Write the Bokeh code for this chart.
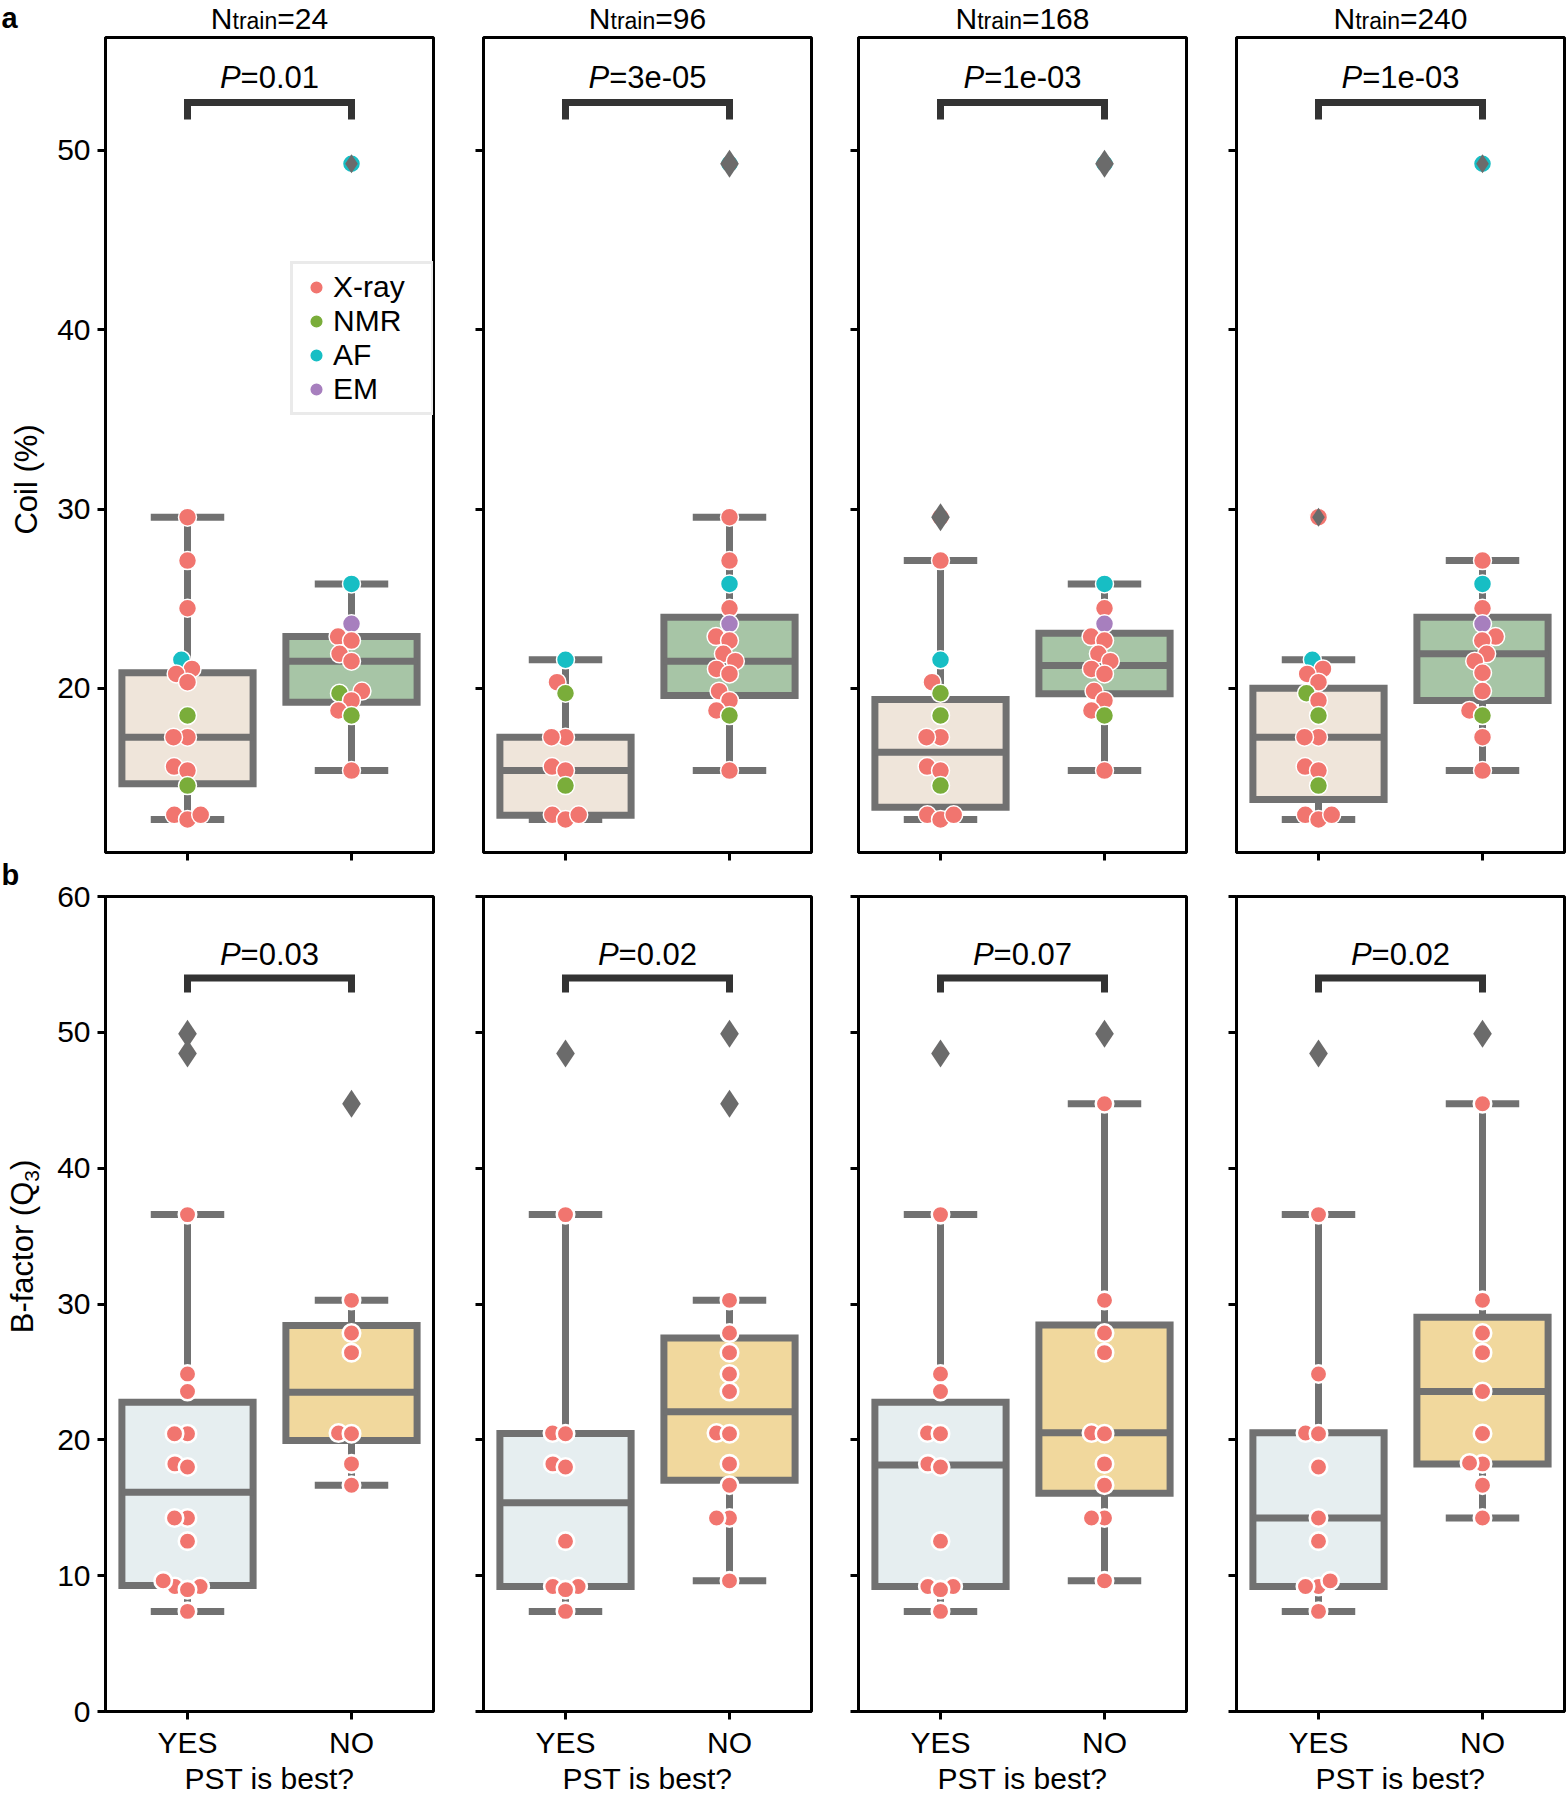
import math
import numpy as np
from bokeh.plotting import figure
from bokeh.models import Range1d, FixedTicker, Label, Legend, LegendItem, ColumnDataSource
from bokeh.layouts import column, row
from bokeh.embed import file_html
from bokeh.resources import INLINE

FONT = "Liberation Sans"

# ---------------- data ----------------
NTRAIN = ["24", "96", "168", "240"]
GROUPS = ["YES", "NO"]
SOURCES = ["X-ray", "NMR", "AF", "EM"]
SOURCE_CODES = ["X", "N", "A", "E"]
SOURCE_COLORS = ["#F1756F", "#7AAD3A", "#17BEC4", "#A77FBE"]

P_COIL = ["0.01", "3e-05", "1e-03", "1e-03"]
P_BFAC = ["0.03", "0.02", "0.07", "0.02"]

# Coil (%) per protein; source codes X=X-ray, N=NMR, A=AF, E=EM
COIL_YES_24 = [29.55, 27.13, 24.47, 21.60, 21.09, 20.81, 20.35, 18.49, 17.28, 17.28, 15.64, 15.42, 14.58, 12.95, 12.69, 12.95]
COIL_YES_24_SRC = "XXXAXXXNXXXXNXXX"
COIL_NO_24 = [49.26, 25.83, 23.60, 22.89, 22.67, 21.93, 21.52, 19.85, 19.73, 19.33, 18.77, 18.49, 15.42]
COIL_NO_24_SRC = "AAEXXXXXNXXNX"
COIL_YES_96 = [21.60, 20.35, 19.73, 17.28, 17.28, 15.64, 15.42, 14.58, 12.95, 12.69, 12.95]
COIL_YES_96_SRC = "AXNXXXXNXXX"
COIL_NO_96 = [49.26, 29.55, 27.13, 25.83, 24.47, 23.60, 22.89, 22.67, 21.93, 21.52, 21.09, 20.81, 19.85, 19.33, 18.77, 18.49, 15.42]
COIL_NO_96_SRC = "AXXAXEXXXXXXXXXNX"
COIL_YES_168 = [29.55, 27.13, 21.60, 20.35, 19.73, 18.49, 17.28, 17.28, 15.64, 15.42, 14.58, 12.95, 12.69, 12.95]
COIL_YES_168_SRC = "XXAXNNXXXXNXXX"
COIL_NO_168 = [49.26, 25.83, 24.47, 23.60, 22.89, 22.67, 21.93, 21.52, 21.09, 20.81, 19.85, 19.33, 18.77, 18.49, 15.42]
COIL_NO_168_SRC = "AAXEXXXXXXXXXNX"
COIL_YES_240 = [29.55, 21.60, 21.09, 20.81, 20.35, 19.73, 19.33, 18.49, 17.28, 17.28, 15.64, 15.42, 14.58, 12.95, 12.69, 12.95]
COIL_YES_240_SRC = "XAXXXNXNXXXXNXXX"
COIL_NO_240 = [49.26, 27.13, 25.83, 24.47, 23.60, 22.89, 22.67, 21.93, 21.52, 20.87, 19.85, 18.77, 18.49, 17.28, 15.42]
COIL_NO_240_SRC = "AXAXEXXXXXXXNXX"

# box statistics (whisker low, Q1, median, Q3, whisker high)
COIL_YES_LO = [12.69, 12.69, 12.69, 12.69]
COIL_YES_Q1 = [14.68, 12.93, 13.37, 13.80]
COIL_YES_MED = [17.28, 15.42, 16.44, 17.28]
COIL_YES_Q3 = [20.87, 17.28, 19.38, 20.01]
COIL_YES_HI = [29.55, 21.60, 27.13, 21.60]
COIL_NO_LO = [15.42, 15.42, 15.42, 15.42]
COIL_NO_Q1 = [19.23, 19.60, 19.70, 19.33]
COIL_NO_MED = [21.52, 21.52, 21.28, 21.93]
COIL_NO_Q3 = [22.89, 23.97, 23.08, 23.97]
COIL_NO_HI = [25.83, 29.55, 25.83, 27.13]

# B-factor (Q3), all X-ray structures
BFAC_YES_24 = [49.90, 48.45, 36.58, 24.85, 23.56, 20.45, 20.45, 18.23, 18.00, 14.25, 14.25, 12.54, 9.20, 9.20, 8.97, 9.62, 7.37]
BFAC_NO_24 = [44.74, 30.27, 27.86, 26.42, 20.50, 20.45, 18.23, 16.66]
BFAC_YES_96 = [48.45, 36.58, 20.50, 20.45, 18.23, 18.00, 12.54, 9.20, 9.20, 8.97, 7.37]
BFAC_NO_96 = [49.90, 44.74, 30.27, 27.86, 26.42, 24.85, 23.56, 20.50, 20.45, 18.23, 16.66, 14.25, 14.25, 9.62]
BFAC_YES_168 = [48.45, 36.58, 24.85, 23.56, 20.50, 20.45, 18.23, 18.00, 12.54, 9.20, 9.20, 8.97, 7.37]
BFAC_NO_168 = [49.90, 44.74, 30.27, 27.86, 26.42, 20.50, 20.45, 18.23, 16.66, 14.25, 14.25, 9.62]
BFAC_YES_240 = [48.45, 36.58, 24.85, 20.50, 20.45, 18.00, 14.25, 12.54, 9.20, 9.20, 9.62, 7.37]
BFAC_NO_240 = [49.90, 44.74, 30.27, 27.86, 26.42, 23.56, 20.47, 18.23, 18.30, 16.66, 14.25]

BFAC_YES_LO = [7.37, 7.37, 7.37, 7.37]
BFAC_YES_Q1 = [9.27, 9.20, 9.20, 9.20]
BFAC_YES_MED = [16.14, 15.36, 18.14, 14.24]
BFAC_YES_Q3 = [22.77, 20.47, 22.77, 20.53]
BFAC_YES_HI = [36.58, 36.58, 36.58, 36.58]
BFAC_NO_LO = [16.66, 9.62, 9.62, 14.25]
BFAC_NO_Q1 = [19.95, 17.02, 16.06, 18.23]
BFAC_NO_MED = [23.51, 22.06, 20.53, 23.56]
BFAC_NO_Q3 = [28.42, 27.49, 28.45, 29.02]
BFAC_NO_HI = [30.27, 30.27, 44.74, 44.74]

COIL_TICKS = [20, 30, 40, 50]
BFAC_TICKS = [0, 10, 20, 30, 40, 50, 60]

# ---------------- styles / layout (page px) ----------------
PAGE_W = 1566
FW, FH = 328, 815
STRIP_W = 46            # left text strip width
TOP_H = 36              # top text strip height
LEFT_BORDERS = [59, 47, 44, 47]
RIGHT_BORDERS = [3, 3, 3, 2]
TOPB = {"a": 1, "b": 32}
BOTB = {"a": 12, "b": 89}
Y_RANGES = {"a": (10.85, 56.3), "b": (0.0, 60.0)}
FRAME_TOP = {"a": 37, "b": 896}
FRAME_LEFT = [105, 483, 858, 1236]
GRAY = "#717171"
FLIER = "#6B6B6B"
BOX_FILL = {"a": ["#EFE5DA", "#A7C5A6"], "b": ["#E6EEF0", "#F1D89D"]}
FLIER_SIZE = {"a": [19, 28, 28, 19], "b": [28, 28, 28, 28]}
PT_SIZE = {"a": 18, "b": 17.5}
PT_LINE = {"a": 1.5, "b": 2.6}
SWARM_D = {"a": 14.0, "b": 13.0}
BOX_W = 0.8
CAP_HALF = 0.224
MID = 0.3465  # distance from baseline to text middle, in em

W = {' ': 278, '(': 333, ')': 333, '-': 333, '.': 278, '=': 584, '?': 556, '%': 889,
     'A': 667, 'B': 667, 'C': 722, 'E': 667, 'M': 833, 'N': 722, 'O': 778, 'P': 667, 'Q': 778,
     'R': 722, 'S': 667, 'T': 611, 'X': 667, 'Y': 667, 'a': 556, 'b': 556, 'c': 500, 'e': 556,
     'f': 278, 'i': 222, 'l': 222, 'n': 556, 'o': 556, 'r': 333, 's': 500, 't': 278, 'y': 500}
for _d in "0123456789":
    W[_d] = 556


def tw(s, size):
    return sum(W.get(c, 556) for c in s) * size / 1000.0


def y_at(row_id, page_y):
    lo, hi = Y_RANGES[row_id]
    return hi - (page_y - FRAME_TOP[row_id]) * (hi - lo) / FH


def swarm_offsets(vals_px, d):
    n = len(vals_px)
    order = np.argsort(vals_px, kind="stable")
    placed = []
    offs = np.zeros(n)
    for i in order:
        y = vals_px[i]
        cands = [0.0]
        for (px, py) in placed:
            dy = abs(y - py)
            if dy < d:
                dx = math.sqrt(d * d - dy * dy)
                cands.extend([px - dx, px + dx])
        cands.sort(key=lambda c: round(abs(c), 6))
        chosen = cands[-1]
        for c in cands:
            if all((c - px) ** 2 + (y - py) ** 2 >= d * d - 1e-6 for px, py in placed):
                chosen = c
                break
        placed.append((chosen, y))
        offs[i] = chosen
    return offs


def lab(p, x, y, text, size, style="normal", align="left", angle=0.0, x_offset=0):
    p.add_layout(Label(x=x, y=y, x_offset=x_offset, text=text,
                       text_font=FONT, text_font_size=f"{size}px", text_font_style=style,
                       text_align=align, text_baseline="middle", text_color="black",
                       angle=angle))


def strip_fig(w, h):
    p = figure(frame_width=w, frame_height=h, x_range=Range1d(0, w), y_range=Range1d(h, 0),
               output_backend="svg", toolbar_location=None, tools="",
               x_axis_location=None, y_axis_location=None, align="start",
               min_border_left=0, min_border_right=0, min_border_top=0, min_border_bottom=0)
    p.grid.visible = False
    p.outline_line_color = None
    p.background_fill_color = "white"
    p.border_fill_color = "white"
    return p


def hide_labels(ax):
    ax.major_label_text_color = None
    ax.major_label_text_font_size = "1px"
    ax.major_label_standoff = 0


def base_fig(col, row_id):
    yr = Y_RANGES[row_id]
    p = figure(frame_width=FW, frame_height=FH, x_range=Range1d(-0.5, 1.5),
               y_range=Range1d(*yr), output_backend="svg", toolbar_location=None, tools="",
               align="start",
               min_border_left=LEFT_BORDERS[col], min_border_right=RIGHT_BORDERS[col],
               min_border_top=TOPB[row_id], min_border_bottom=BOTB[row_id])
    p.xgrid.visible = False
    p.ygrid.visible = False
    p.outline_line_color = "black"
    p.outline_line_width = 3
    p.background_fill_color = "white"
    p.border_fill_color = "white"
    for ax in (p.xaxis, p.yaxis):
        ax.axis_line_width = 3
        ax.axis_line_color = "black"
        ax.major_tick_line_width = 3
        ax.major_tick_line_color = "black"
        ax.major_tick_out = 8
        ax.major_tick_in = 0
        ax.minor_tick_line_color = None
        ax.major_label_text_font = FONT
        ax.major_label_text_font_size = "30px"
        ax.major_label_text_color = "black"
    p.xaxis.ticker = FixedTicker(ticks=[0, 1])
    p.xaxis.major_label_overrides = {0: GROUPS[0], 1: GROUPS[1]}
    p.yaxis.ticker = FixedTicker(ticks=COIL_TICKS if row_id == "a" else BFAC_TICKS)
    p.yaxis.major_label_standoff = 7
    if col > 0:
        hide_labels(p.yaxis)
    if row_id == "a":
        hide_labels(p.xaxis)
    else:
        p.xaxis.major_label_standoff = 6
        p.xaxis.axis_label = "PST is best?"
        p.xaxis.axis_label_text_font = FONT
        p.xaxis.axis_label_text_font_size = "30px"
        p.xaxis.axis_label_text_font_style = "normal"
        p.xaxis.axis_label_text_color = "black"
        p.xaxis.axis_label_standoff = 0
    return p


def draw_box(p, xc, lo, q1, med, q3, hi, fill):
    p.segment(x0=[xc, xc], y0=[q3, q1], x1=[xc, xc], y1=[hi, lo], line_color=GRAY, line_width=7)
    p.segment(x0=[xc - CAP_HALF, xc - CAP_HALF], y0=[hi, lo], x1=[xc + CAP_HALF, xc + CAP_HALF],
              y1=[hi, lo], line_color=GRAY, line_width=7)
    p.quad(left=[xc - BOX_W / 2], right=[xc + BOX_W / 2], bottom=[q1], top=[q3],
           fill_color=fill, line_color=GRAY, line_width=7, line_join="miter")
    p.segment(x0=[xc - BOX_W / 2], y0=[med], x1=[xc + BOX_W / 2], y1=[med],
              line_color=GRAY, line_width=7)


def make_panel(col, row_id):
    p = base_fig(col, row_id)
    n = NTRAIN[col]
    ylo, yhi = Y_RANGES[row_id]
    px_x = FW / 2.0
    px_y = FH / (yhi - ylo)
    if row_id == "a":
        groups = [(globals()[f"COIL_YES_{n}"], globals()[f"COIL_YES_{n}_SRC"]),
                  (globals()[f"COIL_NO_{n}"], globals()[f"COIL_NO_{n}_SRC"])]
        stats = [(COIL_YES_LO, COIL_YES_Q1, COIL_YES_MED, COIL_YES_Q3, COIL_YES_HI),
                 (COIL_NO_LO, COIL_NO_Q1, COIL_NO_MED, COIL_NO_Q3, COIL_NO_HI)]
        pv = P_COIL[col]
    else:
        yv, nv = globals()[f"BFAC_YES_{n}"], globals()[f"BFAC_NO_{n}"]
        groups = [(yv, "X" * len(yv)), (nv, "X" * len(nv))]
        stats = [(BFAC_YES_LO, BFAC_YES_Q1, BFAC_YES_MED, BFAC_YES_Q3, BFAC_YES_HI),
                 (BFAC_NO_LO, BFAC_NO_Q1, BFAC_NO_MED, BFAC_NO_Q3, BFAC_NO_HI)]
        pv = P_BFAC[col]

    for g, st in enumerate(stats):
        lo, q1, med, q3, hi = (s[col] for s in st)
        draw_box(p, g, lo, q1, med, q3, hi, BOX_FILL[row_id][g])

    xs, ys, cols, srcs = [], [], [], []
    fl_x, fl_y = [], []
    for g, (vals, codes) in enumerate(groups):
        vals = np.asarray(vals, dtype=float)
        offs = swarm_offsets(vals * px_y, SWARM_D[row_id])
        lo = stats[g][0][col]
        hi = stats[g][4][col]
        for v, o, c in zip(vals, offs, codes):
            xs.append(g + o / px_x)
            ys.append(v)
            k = SOURCE_CODES.index(c)
            cols.append(SOURCE_COLORS[k])
            srcs.append(SOURCES[k])
            if v > hi + 0.15 or v < lo - 0.15:
                fl_x.append(g)
                fl_y.append(v)
    src = ColumnDataSource(dict(x=xs, y=ys, c=cols, s=srcs))
    pts = p.scatter("x", "y", source=src, size=PT_SIZE[row_id], fill_color="c",
                    line_color="white", line_width=PT_LINE[row_id])
    if fl_x:
        p.scatter(fl_x, fl_y, marker="diamond", size=FLIER_SIZE[row_id][col],
                  fill_color=FLIER, line_color=None)

    # significance bracket + P text
    if row_id == "a":
        bar, leg, pbase = y_at("a", 102), y_at("a", 119), 88
    else:
        bar, leg, pbase = y_at("b", 977.5), y_at("b", 992), 965
    p.line([0, 0, 1, 1], [leg, bar, bar, leg], line_color="#333333", line_width=7,
           line_join="miter")
    pieces = [("P", 31, "italic"), ("=" + pv, 31, "normal")]
    total = sum(tw(t, s) for t, s, _ in pieces)
    off = -total / 2.0
    for t, s, stl in pieces:
        lab(p, 0.5, y_at(row_id, pbase - MID * s), t, s, style=stl, x_offset=off)
        off += tw(t, s)

    if row_id == "a" and col == 0:
        items = []
        for name in SOURCES:
            if name in srcs:
                items.append(LegendItem(label=name, renderers=[pts], index=srcs.index(name)))
        lg = Legend(items=items, location=(185, 437), glyph_width=34, glyph_height=34,
                    label_height=34, label_width=92, label_standoff=0, padding=6,
                    spacing=0, margin=0, border_line_color="#D5D5D5", border_line_width=3,
                    background_fill_color="white", background_fill_alpha=1.0,
                    label_text_font=FONT, label_text_font_size="30px",
                    label_text_color="black")
        p.add_layout(lg)
    return p


# ---- top strip: panel letter "a" and N_train titles ----
top = strip_fig(PAGE_W, TOP_H)
lab(top, 1, 17, "a", 29, style="bold")
for c, n in enumerate(NTRAIN):
    pieces = [("N", 30), ("train", 23), ("=" + n, 30)]
    total = sum(tw(t, s) for t, s in pieces)
    x = FRAME_LEFT[c] + FW / 2.0 - total / 2.0
    for t, s in pieces:
        lab(top, x, 28.4 - MID * s, t, s)
        x += tw(t, s)

# ---- left strip spanning both rows: y-axis titles and panel letter "b" ----
h_a = TOPB["a"] + FH + BOTB["a"]
h_b = TOPB["b"] + FH + BOTB["b"]
left = strip_fig(STRIP_W, h_a + h_b)
Y0 = TOP_H
lab(left, 37 - MID * 31, 479 - Y0, "Coil (%)", 31, align="center", angle=math.pi / 2)
lab(left, 1, 885 - MID * 29 - Y0, "b", 29, style="bold")
bf_pieces = [("B-factor (Q", 31, 0), ("3", 21, 6), (")", 31, 0)]
bf_total = sum(tw(t, s) for t, s, _ in bf_pieces)
yb = 1246 + bf_total / 2.0 - Y0
for t, s, shift in bf_pieces:
    w = tw(t, s)
    lab(left, 33 + shift - MID * s, yb - w / 2.0, t, s, align="center", angle=math.pi / 2)
    yb -= w

top_row = [make_panel(c, "a") for c in range(4)]
bot_row = [make_panel(c, "b") for c in range(4)]
grid = column(row(*top_row, align="start"), row(*bot_row, align="start"), align="start")
layout = column(top, row(left, grid, align="start"), align="start")

open("out.html", "w").write(file_html(layout, INLINE))
